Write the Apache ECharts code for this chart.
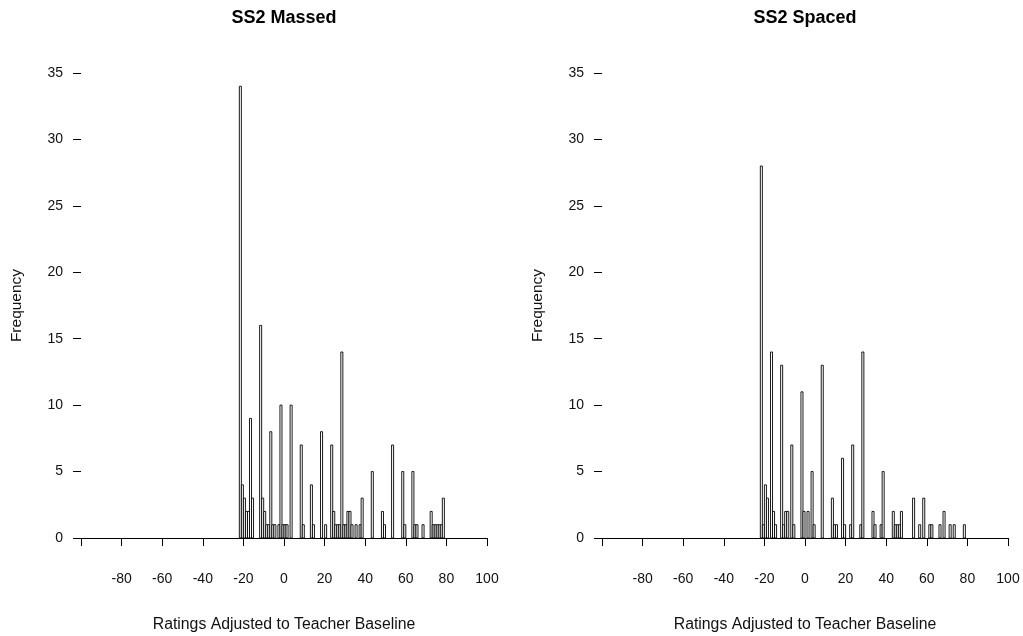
<!DOCTYPE html>
<html>
<head>
<meta charset="utf-8">
<script src="https://cdn.jsdelivr.net/npm/echarts@6/dist/echarts.min.js"></script>
<style>
  html, body { margin: 0; padding: 0; background: #fff; }
  #chart { width: 1023px; height: 636px; }
</style>
</head>
<body>
<div id="chart"></div>
<script>
// histogram bins (left edge of each 1-unit bin) and their counts
var massedBins = [-22, -21, -20, -19, -18, -17, -16, -12, -11, -10, -9, -8, -7, -6, -5, -3, -2, -1, 0, 1, 3,
    8, 9, 13, 14, 18, 20, 23, 24, 25, 26, 27, 28, 29, 30, 31, 32, 33, 35, 37, 38,
    43, 48, 49, 53, 58, 59, 63, 64, 65, 68, 72, 73, 74, 75, 76, 77, 78];
var massedCounts = [34, 4, 3, 2, 2, 9, 3, 16, 3, 2, 1, 1, 8, 1, 1, 1, 10, 1, 1, 1, 10,
    7, 1, 4, 1, 8, 1, 7, 2, 1, 1, 1, 14, 1, 1, 2, 2, 1, 1, 1, 3,
    5, 2, 1, 7, 5, 1, 5, 1, 1, 1, 2, 1, 1, 1, 1, 1, 3];

var spacedBins = [-22, -21, -20, -19, -17, -16, -15, -12, -11, -10, -9, -7, -6, -2, -1, 1, 3, 4,
    8, 13, 14, 15, 18, 19, 22, 23, 27, 28, 33, 34, 37, 38,
    43, 44, 45, 46, 47, 53, 56, 58, 61, 62, 66, 68, 71, 73, 78];
var spacedCounts = [28, 1, 4, 3, 14, 2, 1, 13, 1, 2, 2, 7, 1, 11, 2, 2, 5, 1,
    13, 3, 1, 1, 6, 1, 1, 7, 1, 14, 2, 1, 1, 5,
    2, 1, 1, 1, 2, 3, 1, 3, 1, 1, 1, 2, 1, 1, 1];

var titles = ['SS2 Massed', 'SS2 Spaced'];
var xName = 'Ratings Adjusted to Teacher Baseline';
var yName = 'Frequency';

var chart = echarts.init(document.getElementById('chart'));

function pairs(bins, counts) {
    var out = [];
    for (var i = 0; i < bins.length; i++) {
        out.push([bins[i], counts[i]]);
    }
    return out;
}

function renderBin(params, api) {
    var x0 = api.value(0);
    var top = api.coord([x0, api.value(1)]);
    var bottom = api.coord([x0 + 1, 0]);
    return {
        type: 'rect',
        shape: {x: top[0], y: top[1], width: bottom[0] - top[0], height: bottom[1] - top[1]},
        style: {fill: '#fff', stroke: '#000', lineWidth: 0.9}
    };
}

var font = 'Liberation Sans, Arial, sans-serif';
var lefts = [81, 602];

function xAxis(i) {
    return {
        gridIndex: i, type: 'value', min: -100, max: 100, interval: 20,
        name: xName, nameLocation: 'middle', nameGap: 79,
        nameTextStyle: {fontFamily: font, fontSize: 15.8, color: '#111'},
        axisLine: {onZero: false, lineStyle: {color: '#000', width: 1}},
        axisTick: {length: 8, lineStyle: {color: '#000'}},
        axisLabel: {
            margin: 34, fontFamily: font, fontSize: 14, color: '#111',
            formatter: function (v) { return v === -100 ? '' : v; }
        },
        splitLine: {show: false}
    };
}

function yAxis(i) {
    return {
        gridIndex: i, type: 'value', min: 0, max: 35, interval: 5,
        name: yName, nameLocation: 'middle', nameGap: 56,
        nameTextStyle: {fontFamily: font, fontSize: 15.5, color: '#111'},
        axisLine: {show: false, onZero: false},
        axisTick: {show: true, length: 8, lineStyle: {color: '#000'}},
        axisLabel: {margin: 18, fontFamily: font, fontSize: 14, color: '#111'},
        splitLine: {show: false}
    };
}

var option = {
    backgroundColor: '#fff',
    animation: false,
    title: titles.map(function (t, i) {
        return {
            text: t, left: lefts[i] + 203, top: 9, padding: 0, textAlign: 'center',
            textStyle: {fontFamily: font, fontSize: 18, fontWeight: 'bold', color: '#000'}
        };
    }),
    grid: lefts.map(function (l) {
        return {left: l, width: 406, top: 73, height: 465, outerBoundsMode: 'none'};
    }),
    xAxis: [xAxis(0), xAxis(1)],
    yAxis: [yAxis(0), yAxis(1)],
    series: [
        {type: 'custom', xAxisIndex: 0, yAxisIndex: 0, renderItem: renderBin, data: pairs(massedBins, massedCounts)},
        {type: 'custom', xAxisIndex: 1, yAxisIndex: 1, renderItem: renderBin, data: pairs(spacedBins, spacedCounts)}
    ]
};

chart.setOption(option);
</script>
</body>
</html>
